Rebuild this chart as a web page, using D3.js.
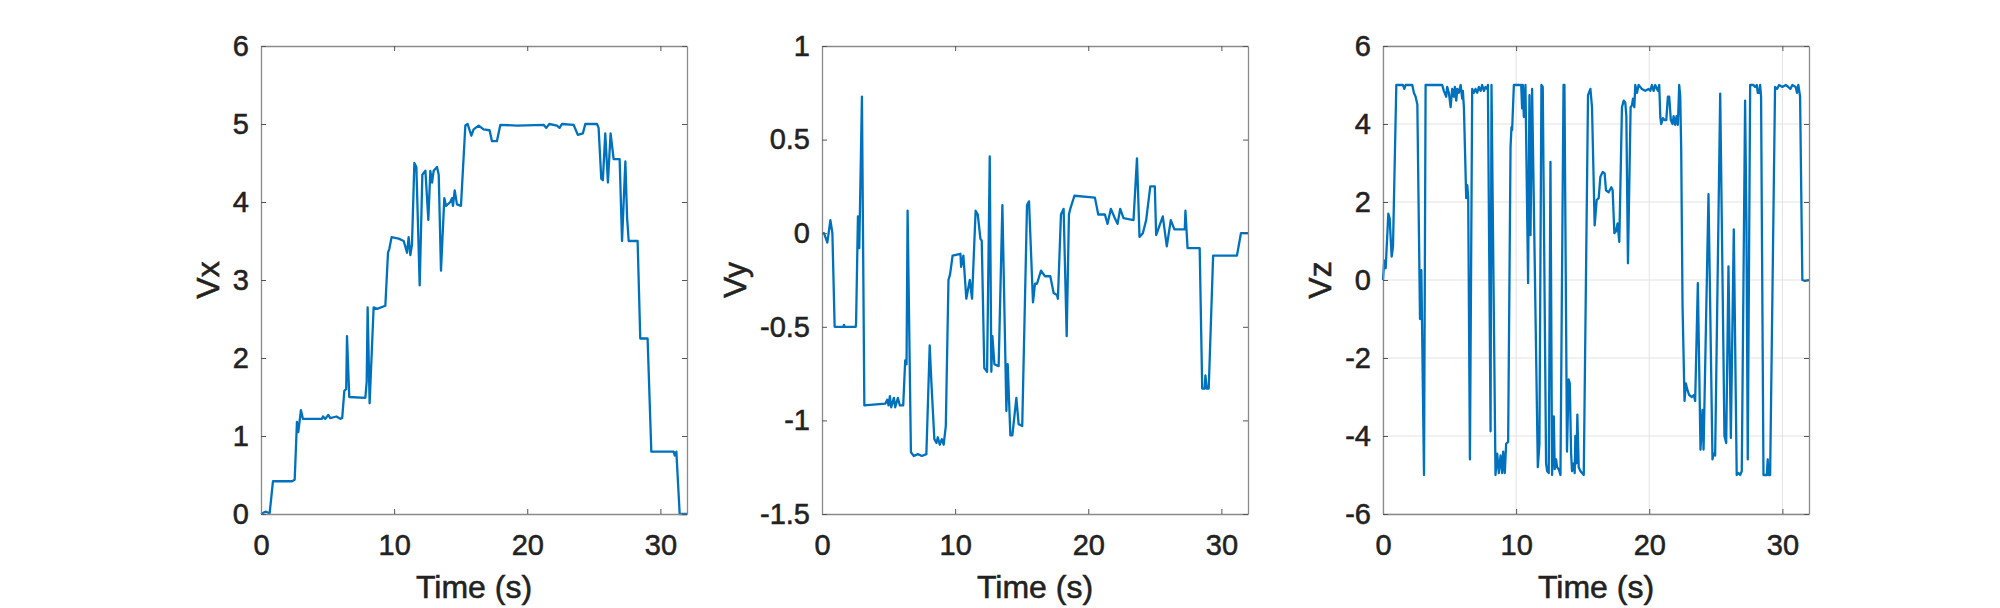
<!DOCTYPE html>
<html>
<head>
<meta charset="utf-8">
<script src="https://cdn.jsdelivr.net/npm/d3@7"></script>
<style>
  body { margin: 0; background: #fff; }
  text { font-family: "Liberation Sans", Arial, Helvetica, sans-serif; fill: #222; stroke: #222; stroke-width: 0.55px; }
</style>
</head>
<body>
<svg id="chart" width="2000" height="608"></svg>
<script>
// time ticks shared by the three panels
var timeTicks = [0, 10, 20, 30];

// Vx (time, value)
var vxPoints = [[0,0],[0.33,0.03],[0.65,0.01],[0.9,0.42],[2.33,0.42],[2.53,0.44],[2.7,1.18],[2.8,1.05],[2.87,1.15],[3.0,1.33],[3.15,1.22],[4.58,1.22],[4.66,1.25],[4.83,1.22],[5.05,1.27],[5.2,1.23],[5.66,1.25],[5.96,1.22],[6.1,1.23],[6.26,1.58],[6.4,1.6],[6.46,2.28],[6.63,1.5],[7.84,1.49],[7.94,1.7],[8.01,2.65],[8.16,1.42],[8.46,2.65],[8.72,2.63],[9.34,2.67],[9.54,3.35],[9.64,3.4],[9.81,3.55],[10.34,3.53],[10.72,3.5],[10.97,3.35],[11.09,3.55],[11.22,3.32],[11.34,3.45],[11.52,4.5],[11.67,4.45],[11.92,2.93],[12.12,4.35],[12.35,4.4],[12.57,3.77],[12.72,4.4],[12.85,4.25],[12.97,4.4],[13.22,4.45],[13.35,4.35],[13.52,3.12],[13.77,4.05],[13.9,3.95],[14.22,4.0],[14.35,4.05],[14.42,3.95],[14.55,4.15],[14.72,3.97],[15.02,3.95],[15.35,4.98],[15.52,5.0],[15.8,4.85],[15.97,4.93],[16.35,4.98],[16.72,4.93],[17.17,4.92],[17.35,4.78],[17.72,4.78],[17.98,4.99],[19.23,4.98],[21.23,4.99],[21.43,4.95],[21.66,5.0],[22.23,4.98],[22.43,4.95],[22.6,5.0],[23.48,4.99],[23.8,4.86],[24.18,4.88],[24.36,5.0],[25.24,5.0],[25.36,4.95],[25.56,4.3],[25.68,4.28],[25.86,4.88],[26.06,4.25],[26.26,4.88],[26.49,4.55],[26.94,4.55],[27.12,3.5],[27.37,4.52],[27.5,3.8],[27.62,3.5],[28.29,3.5],[28.49,2.25],[29.04,2.25],[29.32,0.8],[31.0,0.8],[31.08,0.75],[31.2,0.8],[31.45,0],[32,0]];

// Vy
var vyPoints = [[0,0],[0.15,0],[0.4,-0.05],[0.63,0.07],[0.78,0],[0.95,-0.5],[1.6,-0.5],[1.65,-0.49],[1.7,-0.5],[2.53,-0.5],[2.56,-0.48],[2.7,0.09],[2.8,-0.08],[3.0,0.73],[3.18,-0.92],[4.76,-0.91],[4.9,-0.89],[5.0,-0.92],[5.1,-0.87],[5.2,-0.93],[5.4,-0.88],[5.5,-0.93],[5.7,-0.88],[5.85,-0.92],[6.1,-0.92],[6.25,-0.68],[6.35,-0.7],[6.43,0.12],[6.68,-1.17],[6.9,-1.19],[7.2,-1.18],[7.5,-1.19],[7.84,-1.18],[8.09,-0.6],[8.22,-0.8],[8.44,-1.1],[8.6,-1.12],[8.7,-1.09],[8.85,-1.13],[9.0,-1.1],[9.14,-1.13],[9.3,-1.03],[9.5,-0.25],[9.62,-0.22],[9.81,-0.12],[10.4,-0.11],[10.45,-0.18],[10.62,-0.12],[10.84,-0.35],[11.1,-0.25],[11.27,-0.35],[11.54,0.12],[11.7,0.1],[11.9,-0.03],[12.0,-0.04],[12.19,-0.72],[12.4,-0.74],[12.6,0.41],[12.72,-0.74],[12.8,-0.55],[12.95,-0.7],[13.27,-0.71],[13.55,0.15],[13.85,-0.95],[13.95,-0.7],[14.15,-1.08],[14.3,-1.08],[14.6,-0.88],[14.77,-1.02],[15.04,-1.03],[15.4,0.15],[15.55,0.17],[15.85,-0.37],[16.0,-0.27],[16.15,-0.27],[16.45,-0.2],[16.75,-0.23],[17.15,-0.23],[17.4,-0.32],[17.65,-0.33],[17.72,-0.35],[17.95,0.1],[18.15,0.13],[18.38,-0.55],[18.55,0.1],[18.65,0.13],[18.96,0.2],[20.5,0.19],[20.75,0.1],[21.25,0.1],[21.45,0.05],[21.7,0.13],[22.0,0.08],[22.2,0.05],[22.4,0.13],[22.65,0.08],[23.4,0.07],[23.66,0.4],[23.85,-0.02],[24.1,0.0],[24.35,0.07],[24.66,0.25],[25.0,0.25],[25.1,-0.01],[25.6,0.09],[25.9,-0.07],[26.2,0.07],[26.47,0.02],[27.25,0.02],[27.3,0.12],[27.46,-0.08],[28.37,-0.08],[28.56,-0.83],[28.75,-0.83],[28.8,-0.76],[28.9,-0.83],[29.05,-0.83],[29.38,-0.12],[31.17,-0.12],[31.47,0],[32,0]];

// Vz
var vzPoints = [[0,0],[0.08,0.43],[0.15,0.5],[0.2,0.3],[0.4,1.7],[0.5,1.58],[0.65,0.6],[0.75,0.85],[1.0,5.0],[1.5,5.0],[1.6,4.9],[1.7,5.0],[2.2,5.0],[2.32,4.8],[2.45,4.7],[2.58,4.5],[2.78,-1.0],[2.88,0.25],[3.08,-5.0],[3.2,5.0],[4.45,5.0],[4.57,4.85],[4.75,4.7],[4.82,4.95],[4.95,4.8],[5.08,4.43],[5.2,4.9],[5.33,4.7],[5.4,4.95],[5.5,4.6],[5.58,4.9],[5.7,4.8],[5.83,5.0],[5.95,4.65],[6.0,4.85],[6.08,4.4],[6.25,2.1],[6.33,2.43],[6.4,2.12],[6.53,-4.6],[6.7,4.9],[6.83,4.8],[6.95,4.9],[7.08,4.8],[7.2,4.95],[7.33,4.85],[7.45,5.0],[7.58,4.85],[7.7,4.95],[7.83,4.9],[7.88,5.0],[8.08,-3.88],[8.15,5.0],[8.45,-5.0],[8.58,-4.45],[8.7,-4.95],[8.83,-4.5],[8.95,-4.95],[9.03,-4.4],[9.15,-4.95],[9.25,-4.2],[9.4,-4.15],[9.58,3.4],[9.65,3.92],[9.7,3.85],[9.83,5.0],[10.38,5.0],[10.45,4.4],[10.5,5.0],[10.58,4.18],[10.7,5.0],[10.9,-0.08],[11.0,4.74],[11.08,1.15],[11.2,4.9],[11.63,-4.8],[11.75,-4.2],[11.9,5.0],[12.0,4.95],[12.25,-4.7],[12.33,-4.9],[12.45,-4.95],[12.58,3.03],[12.7,-5.0],[12.83,-3.5],[12.9,-4.85],[13.0,-4.6],[13.08,-4.8],[13.2,-4.85],[13.33,-5.0],[13.56,5.0],[13.63,5.0],[13.82,-4.4],[13.95,-2.55],[14.03,-2.65],[14.13,-4.45],[14.2,-4.9],[14.33,-4.7],[14.4,-4.95],[14.45,-4.0],[14.53,-4.7],[14.6,-3.45],[14.7,-4.8],[14.83,-4.9],[14.95,-4.95],[15.08,-5.0],[15.4,4.74],[15.58,4.9],[15.7,4.43],[15.9,1.4],[16.05,2.05],[16.2,2.1],[16.33,2.65],[16.5,2.77],[16.65,2.73],[16.75,2.3],[16.95,2.25],[17.15,2.38],[17.25,2.3],[17.38,1.2],[17.5,1.25],[17.62,1.45],[17.75,0.98],[17.95,4.43],[18.08,4.6],[18.2,4.55],[18.28,4.2],[18.4,0.43],[18.6,4.43],[18.7,4.48],[18.78,4.65],[18.88,4.43],[18.95,5.0],[19.08,4.8],[19.2,5.0],[19.45,4.9],[19.7,4.85],[19.95,4.9],[20.08,4.85],[20.2,5.0],[20.33,4.85],[20.45,5.0],[20.58,4.9],[20.65,4.85],[20.75,5.0],[20.83,4.18],[20.9,4.0],[21.03,4.15],[21.15,4.1],[21.28,4.1],[21.4,4.7],[21.5,4.7],[21.62,4.1],[21.75,4.0],[21.83,4.2],[21.95,3.98],[22.05,4.2],[22.15,3.98],[22.25,5.0],[22.33,4.7],[22.4,3.35],[22.5,-0.65],[22.65,-3.1],[22.75,-2.65],[22.85,-2.8],[23.0,-2.95],[23.2,-3.0],[23.35,-2.95],[23.45,-3.1],[23.65,-0.08],[23.85,-4.35],[24.0,-3.33],[24.08,-4.35],[24.45,2.2],[24.75,-4.6],[24.83,-4.45],[24.95,-4.5],[25.33,4.78],[25.65,-4.0],[25.78,-4.18],[25.95,0.35],[26.13,-4.05],[26.35,1.3],[26.57,-5.0],[26.7,-4.95],[26.83,-5.0],[26.95,-4.9],[27.2,4.6],[27.3,1.45],[27.4,-4.6],[27.58,5.0],[27.83,5.0],[27.95,4.95],[28.08,5.0],[28.15,4.8],[28.25,4.8],[28.33,5.0],[28.4,4.7],[28.58,-5.0],[28.83,-5.0],[28.9,-4.6],[28.95,-5.0],[29.08,-5.0],[29.45,4.95],[29.6,4.9],[29.75,5.0],[30.0,4.95],[30.25,5.0],[30.45,4.95],[30.6,4.9],[30.75,5.0],[31.0,4.95],[31.1,4.8],[31.2,5.0],[31.33,4.7],[31.5,0],[31.7,-0.02],[32,0]];

var vxTicks = [0, 1, 2, 3, 4, 5, 6];
var vyTicks = [-1.5, -1, -0.5, 0, 0.5, 1];
var vzTicks = [-6, -4, -2, 0, 2, 4, 6];

var panels = [
  { name: "Vx", points: vxPoints, domain: [0, 6], ticks: vxTicks, left: 261, grid: false },
  { name: "Vy", points: vyPoints, domain: [-1.5, 1], ticks: vyTicks, left: 822, grid: false },
  { name: "Vz", points: vzPoints, domain: [-6, 6], ticks: vzTicks, left: 1383, grid: true }
];

var svg = d3.select("#chart");
var top_ = 46, bottom = 514, pw = 426;
var tickFont = 29, labelFont = 32;
var fmt = function(d) { return String(d); };

panels.forEach(function(p) {

  var x = d3.scaleLinear().domain([0, 32]).range([0, pw]);
  var y = d3.scaleLinear().domain(p.domain).range([bottom - top_, 0]);
  var h = bottom - top_;

  var g = svg.append("g").attr("transform", "translate(" + p.left + "," + top_ + ")");

  if (p.grid) {
    g.selectAll(".vgrid").data(timeTicks).enter().append("line")
      .attr("x1", function(d) { return x(d); }).attr("x2", function(d) { return x(d); })
      .attr("y1", 0).attr("y2", h)
      .attr("stroke", "#e3e3e3").attr("stroke-width", 1);
    g.selectAll(".hgrid").data(p.ticks).enter().append("line")
      .attr("y1", function(d) { return y(d); }).attr("y2", function(d) { return y(d); })
      .attr("x1", 0).attr("x2", pw)
      .attr("stroke", "#e3e3e3").attr("stroke-width", 1);
  }

  var line = d3.line()
    .x(function(d) { return x(d[0]); })
    .y(function(d) { return y(d[1]); });

  g.append("path")
    .datum(p.points)
    .attr("d", line)
    .attr("fill", "none")
    .attr("stroke", "#0072BD")
    .attr("stroke-width", 2.3)
    .attr("stroke-linejoin", "round");

  // axes, ticks pointing inward like matlab
  var xb = g.append("g").attr("transform", "translate(0," + h + ")")
    .call(d3.axisBottom(x).tickValues(timeTicks).tickFormat(fmt).tickSizeInner(-5).tickSizeOuter(0).tickPadding(20));
  var xt = g.append("g")
    .call(d3.axisTop(x).tickValues(timeTicks).tickFormat("").tickSizeInner(-5).tickSizeOuter(0));
  var yl = g.append("g")
    .call(d3.axisLeft(y).tickValues(p.ticks).tickFormat(fmt).tickSizeInner(-5).tickSizeOuter(0).tickPadding(12));
  var yr = g.append("g").attr("transform", "translate(" + pw + ",0)")
    .call(d3.axisRight(y).tickValues(p.ticks).tickFormat("").tickSizeInner(-5).tickSizeOuter(0));

  [xb, xt, yl, yr].forEach(function(a) {
    a.select(".domain").attr("stroke", "#8a8a8a").attr("stroke-width", 1.3);
    a.selectAll(".tick line").attr("stroke", "#555").attr("stroke-width", 1);
    a.selectAll("text").style("font-size", tickFont + "px").attr("fill", "#222");
  });

  // y label sits beyond the widest tick label
  var maxW = 0;
  yl.selectAll("text").each(function() { maxW = Math.max(maxW, this.getBBox().width); });

  g.append("text")
    .attr("transform", "translate(" + (-12 - maxW - 25) + "," + (h / 2) + ") rotate(-90)")
    .attr("text-anchor", "middle")
    .attr("dy", "0.35em")
    .style("font-size", labelFont + "px")
    .text(p.name);

  g.append("text")
    .attr("x", pw / 2)
    .attr("y", h + 84)
    .attr("text-anchor", "middle")
    .style("font-size", labelFont + "px")
    .text("Time (s)");
});
</script>
</body>
</html>
